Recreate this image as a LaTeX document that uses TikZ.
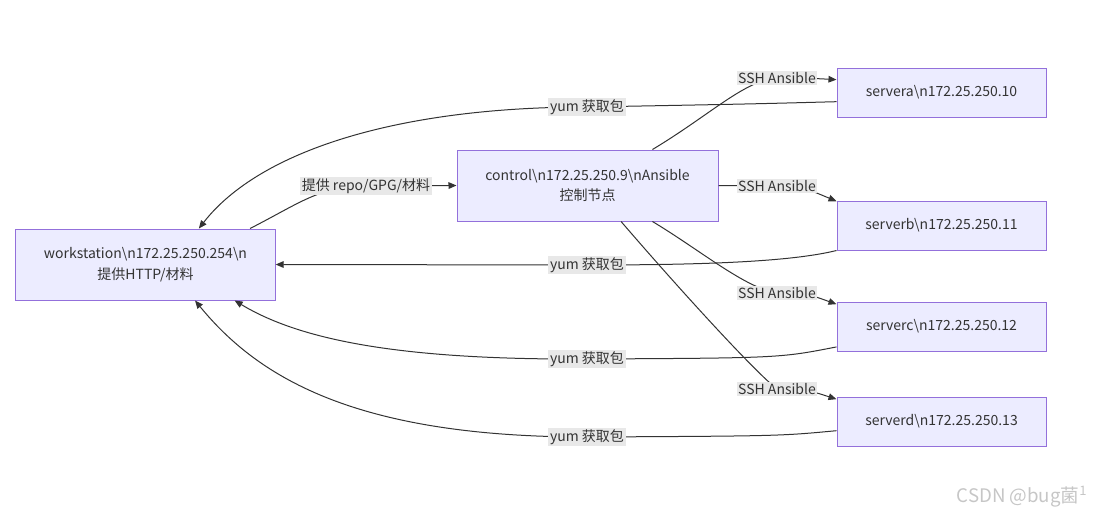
\documentclass[tikz,border=0pt]{standalone}
\usepackage{fontspec}
\setmainfont{Noto Sans CJK SC}
\usepackage{xcolor}
\usetikzlibrary{arrows.meta,positioning}

\definecolor{boxfill}{HTML}{ECECFF}
\definecolor{boxline}{HTML}{9370DB}
\definecolor{linkgray}{HTML}{333333}
\definecolor{labelbg}{HTML}{E8E8E8}

\tikzset{
  box/.style={draw=boxline, fill=boxfill, line width=0.75pt, align=center,
    inner sep=0pt, font=\fontsize{10.5}{15.5}\selectfont, text=linkgray},
  bigbox/.style={box, minimum width=194.5pt, minimum height=53.25pt},
  srvbox/.style={box, minimum width=156.75pt, minimum height=36.75pt},
  link/.style={draw=linkgray, line width=0.75pt, -{Triangle[length=6pt,width=5pt]}},
  lbl/.style={fill=labelbg, inner sep=1.2pt, font=\fontsize{10.5}{12}\selectfont, text=linkgray}
}

\begin{document}
\begin{tikzpicture}[x=0.75pt,y=-0.75pt]
\useasboundingbox (0,0) rectangle (1096,515);

\node[bigbox] (ws) at (145.5,264.5) {workstation\textbackslash n172.25.250.254\textbackslash n\\提供HTTP/材料};
\node[bigbox, minimum width=195.75pt] (ctrl) at (587.5,185.5) {control\textbackslash n172.25.250.9\textbackslash nAnsible\\控制节点};
\node[srvbox] (sa) at (941.5,92.5) {servera\textbackslash n172.25.250.10};
\node[srvbox] (sb) at (941.5,225.5) {serverb\textbackslash n172.25.250.11};
\node[srvbox] (sc) at (941.5,326.5) {serverc\textbackslash n172.25.250.12};
\node[srvbox] (sd) at (941.5,421.5) {serverd\textbackslash n172.25.250.13};

% label positions
\coordinate (lrepo) at (366,186);
\coordinate (lssha) at (777,78);
\coordinate (lsshb) at (777,186);
\coordinate (lsshc) at (777,293);
\coordinate (lsshd) at (777,389);
\coordinate (lyuma) at (587,107);
\coordinate (lyumb) at (587,265);
\coordinate (lyumc) at (587,359);
\coordinate (lyumd) at (587,437);

% control links
\draw[link] (ws.19.6) .. controls (300,203) and (320,186) .. (lrepo) -- (ctrl.west);
\draw[link] (ctrl.29.6) .. controls (710,115) and (745,80) .. (lssha) .. controls (805,78) .. (sa.173);
\draw[link] (ctrl.east) -- (lsshb) .. controls (805,188) .. (sb.167);
\draw[link] (ctrl.-29.6) .. controls (700,250) and (745,288) .. (lsshc) .. controls (808,294) .. (sc.168.4);
\draw[link] (ctrl.-47.5) .. controls (680,290) and (755,372) .. (lsshd) .. controls (808,390) .. (sd.168.4);

% yum links
\draw[link] (sa.185.2) .. controls (750,104) .. (lyuma) .. controls (400,107) and (260,150) .. (ws.34.6);
\draw[link] (sb.south west) .. controls (790,262) and (700,265) .. (lyumb) -- (ws.east);
\draw[link] (sc.191.6) .. controls (780,358) .. (lyumc) .. controls (400,360) and (300,340) .. (ws.-22.8);
\draw[link] (sd.185.7) .. controls (780,436) .. (lyumd) .. controls (360,437) and (260,380) .. (ws.-36.8);

\node[lbl] (trepo) at (lrepo) {提供 repo/GPG/材料};
\node[lbl] (tssha) at (lssha) {SSH Ansible};
\node[lbl] (tsshb) at (lsshb) {SSH Ansible};
\node[lbl] (tsshc) at (lsshc) {SSH Ansible};
\node[lbl] (tsshd) at (lsshd) {SSH Ansible};
\node[lbl] (tyuma) at (lyuma) {yum 获取包};
\node[lbl] (tyumb) at (lyumb) {yum 获取包};
\node[lbl] (tyumc) at (lyumc) {yum 获取包};
\node[lbl] (tyumd) at (lyumd) {yum 获取包};

\node[text=gray!45, font=\fontsize{14}{16}\selectfont] (mark) at (1022,497) {CSDN @bug菌\textsuperscript{1}};
\end{tikzpicture}
\end{document}
